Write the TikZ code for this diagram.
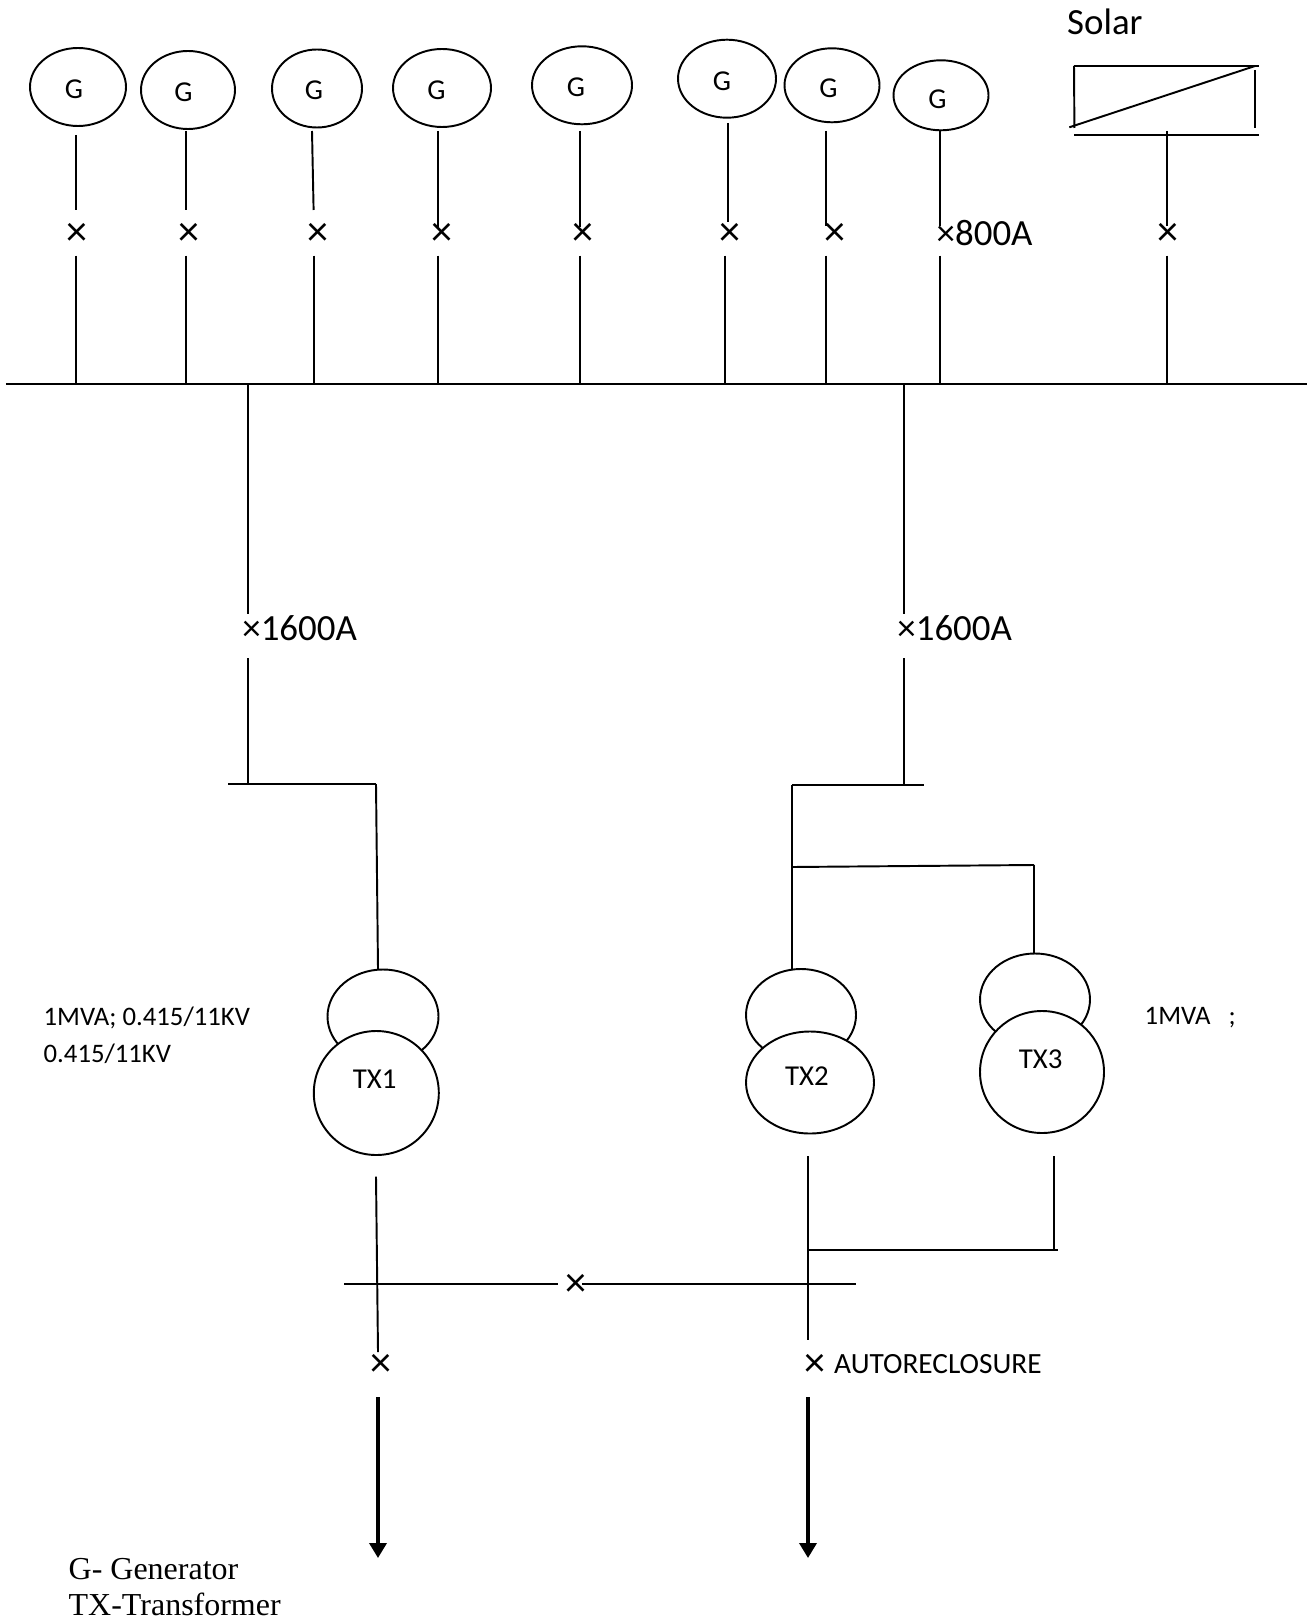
\documentclass[tikz,border=0pt]{standalone}
\usepackage{fontspec}
\setmainfont{Carlito}
\newfontfamily\legendfont{Liberation Serif}
\usetikzlibrary{shapes.geometric, arrows.meta}
\tikzset{
    wire/.style={black, line width=0.55pt},
    feeder/.style={black, line width=1pt, -{Triangle[length=1.5mm,width=1.7mm]}},
    gen/.style={ellipse, draw=black, line width=0.55pt, inner sep=0pt, fill=white},
    big/.style={font=\fontsize{10.5}{12}\selectfont, inner sep=0pt},
    cross/.style={font=\fontsize{12}{14}\selectfont, inner sep=0pt},
    small/.style={font=\fontsize{7.6}{9}\selectfont, inner sep=0pt},
    mid/.style={font=\fontsize{8.2}{10}\selectfont, inner sep=0pt},
    legend/.style={font=\legendfont\fontsize{9.1}{10}\selectfont, inner sep=0pt, anchor=base west},
}
\begin{document}
\begin{tikzpicture}
    \useasboundingbox (0,0) rectangle (13.14,-16.2);

    % busbar
    \coordinate (busL) at (0.06,-3.84);
    \coordinate (busR) at (13.07,-3.84);
    \draw[wire] (busL) -- (busR);

    % generators
    \node[gen, minimum width=0.96cm, minimum height=0.78cm] (G1) at (0.78,-0.87) {};
    \node[gen, minimum width=0.94cm, minimum height=0.78cm] (G2) at (1.88,-0.90) {};
    \node[gen, minimum width=0.90cm, minimum height=0.78cm] (G3) at (3.17,-0.885) {};
    \node[gen, minimum width=0.98cm, minimum height=0.78cm] (G4) at (4.42,-0.88) {};
    \node[gen, minimum width=1.00cm, minimum height=0.78cm] (G5) at (5.82,-0.853) {};
    \node[gen, minimum width=0.98cm, minimum height=0.78cm] (G6) at (7.27,-0.787) {};
    \node[gen, minimum width=0.95cm, minimum height=0.74cm] (G7) at (8.32,-0.853) {};
    \node[gen, minimum width=0.95cm, minimum height=0.70cm] (G8) at (9.41,-0.953) {};

    \node[mid] (textG1) at (0.74,-0.89) {G};
    \node[mid] (textG2) at (1.835,-0.92) {G};
    \node[mid] (textG3) at (3.14,-0.907) {G};
    \node[mid] (textG4) at (4.365,-0.90) {G};
    \node[mid] (textG5) at (5.76,-0.87) {G};
    \node[mid] (textG6) at (7.22,-0.813) {G};
    \node[mid] (textG7) at (8.285,-0.887) {G};
    \node[mid] (textG8) at (9.375,-0.993) {G};

    % breakers under the generators
    \node[cross] (brk1) at (0.766,-2.345) {×};
    \node[cross] (brk2) at (1.894,-2.345) {×};
    \node[cross] (brk3) at (3.178,-2.345) {×};
    \node[cross] (brk4) at (4.42,-2.345) {×};
    \node[cross] (brk5) at (5.825,-2.345) {×};
    \node[cross] (brk6) at (7.30,-2.345) {×};
    \node[cross] (brk7) at (8.35,-2.345) {×};
    \node[big, anchor=west] (brk8) at (9.36,-2.33) {×800A};
    \node[cross] (brk9) at (11.68,-2.345) {×};

    \coordinate (top1) at (0.76,-1.35);
    \coordinate (top2) at (1.86,-1.31);
    \coordinate (top3) at (3.12,-1.31);
    \coordinate (top4) at (4.38,-1.31);
    \coordinate (top5) at (5.80,-1.31);
    \coordinate (top6) at (7.28,-1.23);
    \coordinate (top7) at (8.26,-1.31);
    \coordinate (top8) at (9.403,-1.31);
    \coordinate (top9) at (11.67,-1.31);

    \coordinate (end1) at (0.76,-2.10);
    \coordinate (end2) at (1.86,-2.10);
    \coordinate (end3) at (3.136,-2.10);
    \coordinate (end4) at (4.38,-2.267);
    \coordinate (end5) at (5.80,-2.267);
    \coordinate (end6) at (7.28,-2.22);
    \coordinate (end7) at (8.26,-2.26);
    \coordinate (end8) at (9.403,-2.26);
    \coordinate (end9) at (11.67,-2.26);

    \coordinate (low1) at (0.76,-2.557);
    \coordinate (low2) at (1.86,-2.557);
    \coordinate (low3) at (3.136,-2.557);
    \coordinate (low4) at (4.38,-2.557);
    \coordinate (low5) at (5.80,-2.557);
    \coordinate (low6) at (7.25,-2.557);
    \coordinate (low7) at (8.26,-2.557);
    \coordinate (low8) at (9.403,-2.557);
    \coordinate (low9) at (11.67,-2.557);

    \draw[wire] (top1) -- (end1);
    \draw[wire] (top2) -- (end2);
    \draw[wire] (top3) -- (end3);
    \draw[wire] (top4) -- (end4);
    \draw[wire] (top5) -- (end5);
    \draw[wire] (top6) -- (end6);
    \draw[wire] (top7) -- (end7);
    \draw[wire] (top8) -- (end8);
    \draw[wire] (top9) -- (end9);

    \draw[wire] (low1) -- (low1 |- busL);
    \draw[wire] (low2) -- (low2 |- busL);
    \draw[wire] (low3) -- (low3 |- busL);
    \draw[wire] (low4) -- (low4 |- busL);
    \draw[wire] (low5) -- (low5 |- busL);
    \draw[wire] (low6) -- (low6 |- busL);
    \draw[wire] (low7) -- (low7 |- busL);
    \draw[wire] (low8) -- (low8 |- busL);
    \draw[wire] (low9) -- (low9 |- busL);

    % solar
    \node[big, anchor=west] (solar) at (10.665,-0.22) {Solar};
    \coordinate (panelA) at (10.74,-0.66);
    \coordinate (panelB) at (12.59,-0.66);
    \coordinate (panelC) at (10.744,-1.28);
    \coordinate (panelD) at (12.55,-0.70);
    \coordinate (panelE) at (12.55,-1.277);
    \coordinate (panelF) at (10.74,-1.35);
    \coordinate (panelG) at (12.59,-1.35);
    \coordinate (panelH) at (10.693,-1.273);
    \coordinate (panelI) at (12.55,-0.66);
    \draw[black, line width=0.8pt] (panelA) -- (panelB);
    \draw[wire] (panelA) -- (panelC);
    \draw[wire] (panelD) -- (panelE);
    \draw[wire] (panelF) -- (panelG);
    \draw[wire] (panelH) -- (panelI);

    % incomers
    \node[big, anchor=west] (brkA) at (2.417,-6.28) {×1600A};
    \node[big, anchor=west] (brkB) at (8.967,-6.28) {×1600A};
    \coordinate (stubA) at (2.48,-6.14);
    \coordinate (stubB) at (9.04,-6.14);
    \coordinate (inA) at (2.48,-6.58);
    \coordinate (inB) at (9.04,-6.58);
    \coordinate (barAl) at (2.28,-7.84);
    \coordinate (barAr) at (3.76,-7.84);
    \coordinate (barBl) at (7.92,-7.85);
    \coordinate (barBr) at (9.24,-7.85);
    \draw[wire] (stubA |- busL) -- (stubA);
    \draw[wire] (stubB |- busL) -- (stubB);
    \draw[wire] (inA) -- (inA |- barAl);
    \draw[wire] (inB) -- (inB |- barBl);
    \draw[wire] (barAl) -- (barAr);
    \draw[wire] (barBl) -- (barBr);

    % transformers
    \node[gen, minimum width=1.11cm, minimum height=0.94cm] (TX1up) at (3.83,-10.165) {};
    \node[gen, minimum width=1.25cm, minimum height=1.24cm] (TX1low) at (3.763,-10.93) {};
    \node[gen, minimum width=1.10cm, minimum height=0.92cm] (TX2up) at (8.01,-10.15) {};
    \node[gen, minimum width=1.28cm, minimum height=1.02cm] (TX2low) at (8.10,-10.825) {};
    \node[gen, minimum width=1.10cm, minimum height=0.92cm] (TX3up) at (10.35,-9.995) {};
    \node[gen, minimum width=1.24cm, minimum height=1.22cm] (TX3low) at (10.42,-10.72) {};

    \node[mid] (textTX1) at (3.746,-10.795) {TX1};
    \node[mid] (textTX2) at (8.07,-10.76) {TX2};
    \node[mid] (textTX3) at (10.407,-10.59) {TX3};

    \coordinate (tapA) at (3.78,-9.69);
    \coordinate (tapB) at (7.92,-9.69);
    \coordinate (tapC) at (7.92,-8.67);
    \coordinate (tapD) at (10.34,-8.65);
    \coordinate (tapE) at (10.34,-9.53);
    \draw[wire] (barAr) -- (tapA);
    \draw[wire] (barBl) -- (tapB);
    \draw[wire] (tapC) -- (tapD);
    \draw[wire] (tapD) -- (tapE);

    % lower busbar
    \coordinate (lowbusL) at (3.44,-12.84);
    \coordinate (lowbusR) at (8.56,-12.84);
    \coordinate (tieL) at (5.58,-12.84);
    \coordinate (tieR) at (5.82,-12.84);
    \node[cross] (brkTie) at (5.755,-12.85) {×};
    \draw[wire] (lowbusL) -- (tieL);
    \draw[wire] (tieR) -- (lowbusR);

    \coordinate (outA) at (3.76,-11.766);
    \coordinate (outB) at (3.78,-13.52);
    \coordinate (outC) at (8.08,-11.56);
    \coordinate (outD) at (8.08,-13.40);
    \coordinate (outE) at (10.54,-11.56);
    \coordinate (outF) at (10.54,-12.50);
    \coordinate (outG) at (8.08,-12.50);
    \coordinate (outH) at (10.58,-12.50);
    \draw[wire] (outA) -- (outB);
    \draw[wire] (outC) -- (outD);
    \draw[wire] (outE) -- (outF);
    \draw[wire] (outG) -- (outH);

    % outgoing feeders
    \node[cross] (brkC) at (3.81,-13.65) {×};
    \node[cross] (brkD) at (8.15,-13.65) {×};
    \node[font=\fontsize{8.35}{10}\selectfont, inner sep=0pt, anchor=west] (auto) at (8.335,-13.64) {AUTORECLOSURE};
    \coordinate (feedA) at (3.78,-13.97);
    \coordinate (feedB) at (3.78,-15.58);
    \coordinate (feedC) at (8.08,-13.97);
    \coordinate (feedD) at (8.08,-15.58);
    \draw[feeder] (feedA) -- (feedB);
    \draw[feeder] (feedC) -- (feedD);

    % ratings
    \node[small, anchor=west] (rateA) at (0.43,-10.18) {1MVA; 0.415/11KV};
    \node[small, anchor=west] (rateB) at (0.43,-10.54) {0.415/11KV};
    \node[small, anchor=west] (rateC) at (11.44,-10.18) {1MVA\ \ \ ;};

    % legend
    \node[legend] (keyG) at (0.68,-15.79) {G- Generator};
    \node[legend] (keyTX) at (0.68,-16.15) {TX-Transformer};
\end{tikzpicture}
\end{document}
